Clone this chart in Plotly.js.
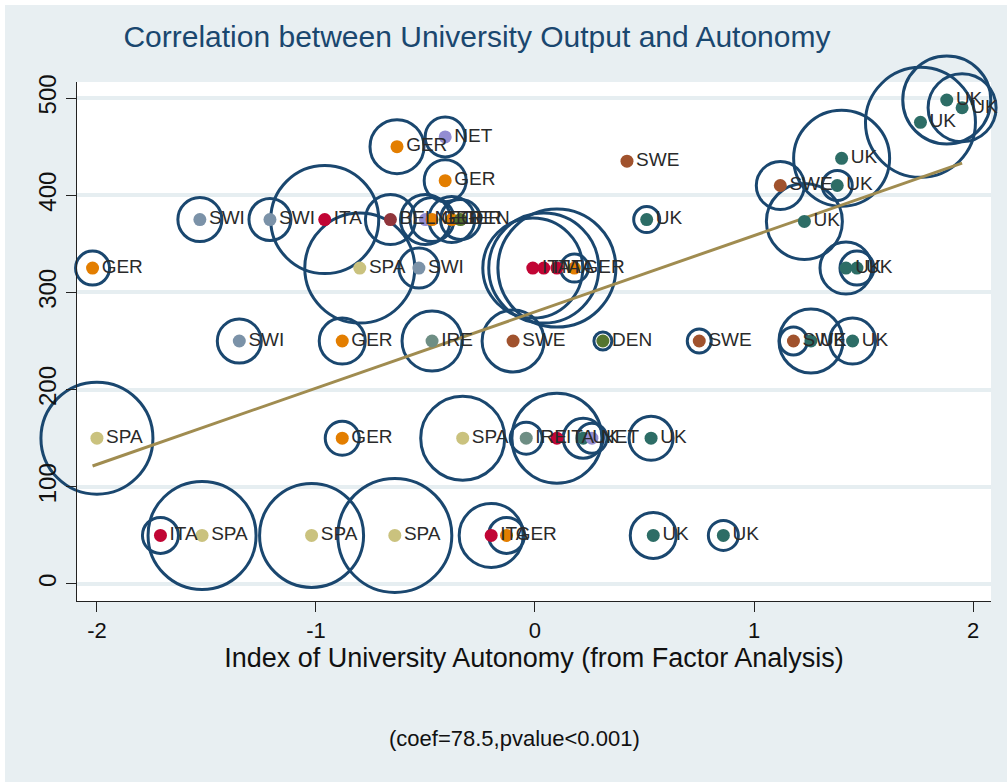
<!DOCTYPE html>
<html>
<head>
<meta charset="utf-8">
<script src="https://cdn.plot.ly/plotly-3.0.1.min.js"></script>
<style>
  html, body { margin: 0; padding: 0; background: #ffffff; }
  #chart { position: absolute; left: 5px; top: 5px; width: 1002px; height: 777px; }
</style>
</head>
<body>
<div id="chart"></div>
<script>
// ---- data ----
const countries = ["ITA","SPA","SPA","SPA","ITA","GER","UK","UK",
                   "SPA","GER","SPA","IRE","ITA","UK","NET","UK",
                   "SWI","GER","IRE","SWE","DEN","SWE","SWE","UK","UK",
                   "GER","SPA","SWI","ITA","ITA","ITA","GER","UK","UK",
                   "SWI","SWI","ITA","BEL","NET","GER","GER","DEN","UK","UK",
                   "SWE","UK","UK","GER","NET","GER","SWE",
                   "UK","UK","UK"];
const autonomy = [-1.71,-1.52,-1.02,-0.64,-0.20,-0.13,0.54,0.86,
                  -2.00,-0.88,-0.33,-0.04,0.10,0.22,0.26,0.53,
                  -1.35,-0.88,-0.47,-0.10,0.31,0.75,1.18,1.26,1.45,
                  -2.02,-0.80,-0.53,-0.01,0.04,0.10,0.18,1.42,1.47,
                  -1.53,-1.21,-0.96,-0.66,-0.50,-0.47,-0.38,-0.34,0.51,1.23,
                  1.12,1.38,1.40,-0.41,-0.41,-0.63,0.42,
                  1.76,1.88,1.95];
const output = [50,50,50,50,50,50,50,50,
                150,150,150,150,150,150,150,150,
                250,250,250,250,250,250,250,250,250,
                325,325,325,325,325,325,325,325,325,
                375,375,375,375,375,375,375,375,375,373,
                410,410,438,415,460,450,435,
                475,498,490];
const weight = [36,108,104,114,64,36,46,30,
                112,34,84,32,90,40,30,44,
                44,46,60,62,18,24,28,64,46,
                34,110,40,100,110,118,28,52,34,
                44,42,108,50,50,44,46,40,26,76,
                48,30,96,42,40,54,0,
                110,88,68];
const countryNames = ["GER","ITA","SPA","SWI","NET","SWE","UK","IRE","BEL","DEN"];
const countryColors = ["#e37e00","#c10534","#cac27e","#7b92a8","#938dd2","#a0522d","#2d6d66","#6e8e84","#90353b","#55752f"];
const fitCoef = 78.5;
const fitIntercept = 280;
const xTicks = [-2,-1,0,1,2];
const yTicks = [0,100,200,300,400,500];
const titleText = "Correlation between University Output and Autonomy";
const xTitleText = "Index of University Autonomy (from Factor Analysis)";
const noteText = "(coef=78.5,pvalue<0.001)";

// ---- build traces ----
const colorOf = {};
countryNames.forEach((c, i) => { colorOf[c] = countryColors[i]; });

const xmin = Math.min(...autonomy), xmax = Math.max(...autonomy);
const FONT = "Liberation Sans, Arial, sans-serif";

const circles = {
  type: "scatter", mode: "markers", x: autonomy, y: output,
  cliponaxis: false, hoverinfo: "skip", showlegend: false,
  marker: { symbol: "circle-open", size: weight, sizemode: "diameter", opacity: 1,
            color: "#1a476f", line: { width: 3, color: "#1a476f" } }
};
const fit = {
  type: "scatter", mode: "lines", x: [xmin, xmax],
  y: [fitIntercept + fitCoef * xmin, fitIntercept + fitCoef * xmax],
  line: { color: "#a08c50", width: 3 }, showlegend: false, hoverinfo: "skip"
};
const dots = {
  type: "scatter", mode: "markers+text", x: autonomy, y: output,
  text: countries, textposition: "middle right", cliponaxis: false,
  textfont: { family: FONT, size: 19, color: "#2a2a2a" },
  marker: { size: 13, opacity: 1, color: countries.map(c => colorOf[c]), line: { width: 0 } },
  showlegend: false
};

const layout = {
  width: 1002, height: 777,
  margin: { l: 72, r: 16, t: 77, b: 181 },
  paper_bgcolor: "#e8eff2", plot_bgcolor: "#ffffff",
  title: { text: titleText, x: 0.471, xref: "container", y: 0.959, yref: "container",
           xanchor: "center", yanchor: "middle",
           font: { family: FONT, size: 30, color: "#1a476f" } },
  xaxis: {
    range: [-2.091, 2.082], tickvals: xTicks, ticktext: xTicks.map(String),
    showgrid: false, zeroline: false, showline: true, linecolor: "#222", linewidth: 1,
    ticks: "outside", ticklen: 10, tickcolor: "#222",
    tickfont: { family: FONT, size: 22, color: "#111" },
    title: { text: xTitleText, standoff: 4,
             font: { family: FONT, size: 27, color: "#111" } }
  },
  yaxis: {
    range: [-17.5, 516.5], tickvals: yTicks, ticktext: yTicks.map(String), tickangle: -90,
    showgrid: true, gridcolor: "#e6eef1", gridwidth: 4, zeroline: false,
    showline: true, linecolor: "#222", linewidth: 1,
    ticks: "outside", ticklen: 10, tickcolor: "#222",
    tickfont: { family: FONT, size: 24, color: "#111" }
  },
  annotations: [{
    text: noteText, xref: "paper", yref: "paper", x: 0.479, y: -0.264,
    xanchor: "center", yanchor: "middle", showarrow: false,
    font: { family: FONT, size: 22, color: "#111" }
  }]
};

Plotly.newPlot("chart", [circles, fit, dots], layout, { displayModeBar: false, staticPlot: true });
</script>
</body>
</html>
